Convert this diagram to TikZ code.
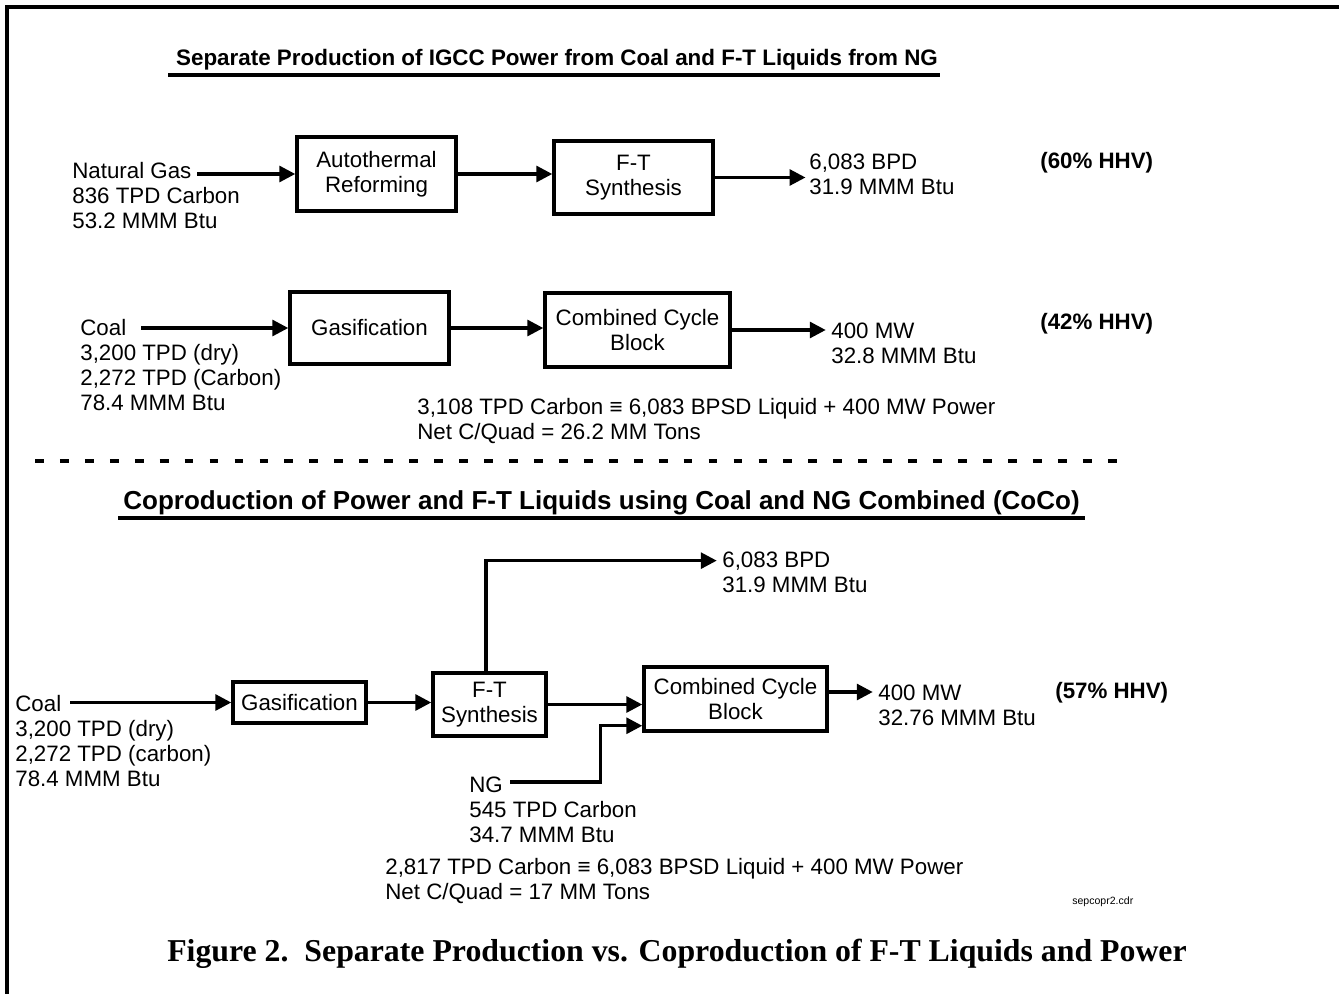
\documentclass[tikz,border=0pt]{standalone}
\usepackage{fontspec}
\setmainfont{Liberation Sans}
\newfontfamily\capfont{Liberation Serif}
\usetikzlibrary{arrows.meta}

\begin{document}
\begin{tikzpicture}[x=0.02cm,y=-0.02cm,
  every node/.style={font=\fontsize{12.7}{14.2}\selectfont,inner sep=0pt},
  txt/.style={anchor=base west},
  hhv/.style={anchor=base west,font=\fontsize{12.7}{14.2}\selectfont\bfseries},
  unit/.style={draw,line width=2pt,align=center},
  flow/.style={line width=1.8pt,-{Triangle[length=9pt,width=9pt]}},
  rule/.style={line width=2.3pt}]
  \useasboundingbox (0,0) rectangle (1339,994);

  % frame
  \draw[rule] (1339,7) -- (7,7) -- (7,994);

  % separate production
  \node[anchor=base,font=\fontsize{12.75}{14}\selectfont\bfseries] (title1) at (557,65) {Separate Production of IGCC Power from Coal and F-T Liquids from NG};
  \draw[rule] (168,75) -- (940,75);

  \node[txt] (ngLbl) at (72,178) {Natural Gas};
  \node[txt] at (72,203) {836 TPD Carbon};
  \node[txt] at (72,228) {53.2 MMM Btu};
  \coordinate (ngIn) at (197,174);

  \node[unit,minimum width=3.18cm,minimum height=1.48cm] (atr) at (376.5,174) {Autothermal\\Reforming};
  \node[unit,minimum width=3.18cm,minimum height=1.46cm] (ft) at (633.5,177.5) {F-T\\Synthesis};

  \node[txt] (bpd) at (809,169) {6,083 BPD};
  \node[txt] at (809,194) {31.9 MMM Btu};
  \node[hhv] at (1040,168) {(60\% HHV)};

  \draw[flow] (ngIn) -- (atr.west);
  \draw[flow] (atr.east) -- (atr.east -| ft.west);
  \draw[flow,shorten >=2pt] (ft.east) -- (ft.east -| bpd.west);

  \node[txt] (coalLbl) at (80,335) {Coal};
  \node[txt] at (80,360) {3,200 TPD (dry)};
  \node[txt] at (80,385) {2,272 TPD (Carbon)};
  \node[txt] at (80,410) {78.4 MMM Btu};
  \coordinate (coalIn) at (141,328);

  \node[unit,minimum width=3.18cm,minimum height=1.44cm] (gas) at (369.5,328) {Gasification};
  \node[unit,minimum width=3.7cm,minimum height=1.48cm] (cc) at (637.5,330) {Combined Cycle\\Block};

  \node[txt] (mw) at (831,338) {400 MW};
  \node[txt] at (831,363) {32.8 MMM Btu};
  \node[hhv] at (1040,329) {(42\% HHV)};

  \draw[flow] (coalIn) -- (gas.west);
  \draw[flow] (gas.east) -- (gas.east -| cc.west);
  \draw[flow,shorten >=3pt] (cc.east) -- (cc.east -| mw.west);

  \node[txt] at (417,414) {3,108 TPD Carbon ≡ 6,083 BPSD Liquid + 400 MW Power};
  \node[txt] at (417,439) {Net C/Quad = 26.2 MM Tons};

  \draw[line width=2.8pt,dash pattern=on 5pt off 9.2pt] (35,461) -- (1125,461);

  % coproduction
  \node[anchor=base,font=\fontsize{14.8}{17}\selectfont\bfseries] (title2) at (601.5,509) {Coproduction of Power and F-T Liquids using Coal and NG Combined (CoCo)};
  \draw[rule] (118,518) -- (1085,518);

  \node[txt] (coal2Lbl) at (15,711) {Coal};
  \node[txt] at (15,736) {3,200 TPD (dry)};
  \node[txt] at (15,761) {2,272 TPD (carbon)};
  \node[txt] at (15,786) {78.4 MMM Btu};
  \coordinate (coal2In) at (70,702.5);

  \node[unit,minimum width=2.66cm,minimum height=0.82cm] (gas2) at (299.5,702.5) {Gasification};
  \node[unit,minimum width=2.26cm,minimum height=1.26cm] (ft2) at (489.5,704.5) {F-T\\Synthesis};
  \node[unit,minimum width=3.66cm,minimum height=1.28cm] (cc2) at (735.5,699) {Combined Cycle\\Block};

  \node[txt] (bpd2) at (722,567) {6,083 BPD};
  \node[txt] at (722,592) {31.9 MMM Btu};

  \node[txt] (ng2Lbl) at (469,792) {NG};
  \node[txt] at (469,817) {545 TPD Carbon};
  \node[txt] at (469,842) {34.7 MMM Btu};
  \coordinate (ng2In) at (510,782);

  \node[txt] (mw2) at (878,700) {400 MW};
  \node[txt] at (878,725) {32.76 MMM Btu};
  \node[hhv] at (1055,698) {(57\% HHV)};

  \draw[flow] (coal2In) -- (gas2.west);
  \draw[flow] (gas2.east) -- (gas2.east -| ft2.west);
  \draw[flow,shorten >=3pt] ([xshift=-0.07cm]ft2.north) |- (bpd2.west);
  \draw[flow] (ft2.east) -- (ft2.east -| cc2.west);
  \draw[flow] (ng2In) -| ([xshift=-0.84cm,yshift=0.14cm]cc2.south west) -- ([yshift=0.14cm]cc2.south west);
  \draw[flow,shorten >=3pt] ([yshift=0.14cm]cc2.east) -- ([yshift=0.14cm]cc2.east -| mw2.west);

  \node[txt] at (385,874) {2,817 TPD Carbon ≡ 6,083 BPSD Liquid + 400 MW Power};
  \node[txt] at (385,899) {Net C/Quad = 17 MM Tons};
  \node[txt,font=\fontsize{6}{7}\selectfont] at (1072,904) {sepcopr2.cdr};

  % caption
  \node[anchor=base,font=\fontsize{18.1}{21}\selectfont\capfont\bfseries] (caption) at (677,961) {Figure 2.\ \ Separate Production vs. Coproduction of F-T Liquids and Power};
\end{tikzpicture}
\end{document}
